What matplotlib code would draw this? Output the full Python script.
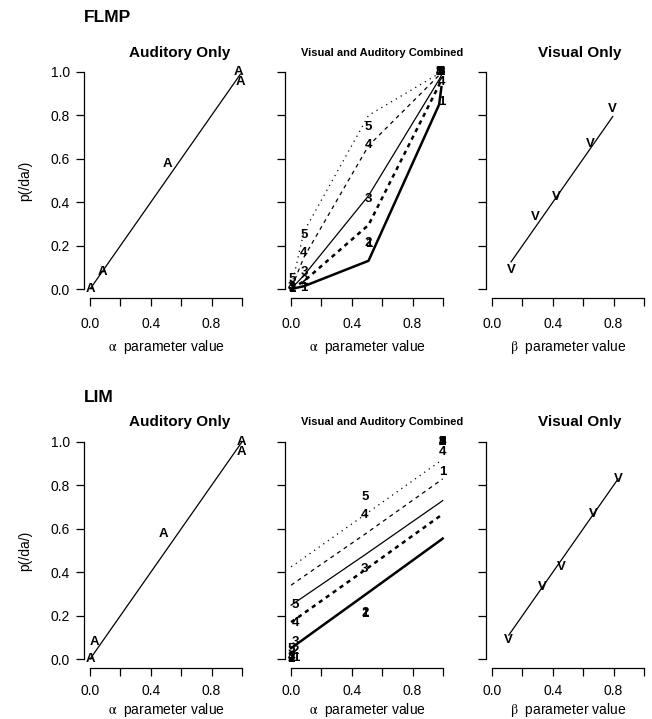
import matplotlib
matplotlib.use("Agg")
import matplotlib.pyplot as plt

W, H = 652, 719

# fitted parameter values
flmp_alpha = [0.005, 0.085, 0.51, 0.975, 0.99]
flmp_beta = [0.125, 0.285, 0.42, 0.65, 0.795]
lim_alpha = [0.0, 0.028, 0.486, 0.995, 0.998]
lim_beta = [0.11, 0.33, 0.455, 0.67, 0.83]

# observed p(/da/)
obs_auditory = [0.0, 0.078, 0.576, 1.0, 0.955]
obs_visual = [0.086, 0.332, 0.422, 0.668, 0.83]
obs_combined = [
    [0.0, 0.004, 0.208, 1.0, 0.86],
    [0.005, 0.038, 0.21, 1.0, 1.0],
    [0.01, 0.08, 0.415, 1.0, 1.0],
    [0.01, 0.165, 0.665, 1.0, 0.955],
    [0.045, 0.25, 0.745, 1.0, 1.0],
]

# model predictions in the combined condition
flmp_pred = [
    [0.001, 0.013, 0.13, 0.85, 0.93],
    [0.002, 0.036, 0.295, 0.94, 0.975],
    [0.004, 0.063, 0.43, 0.965, 0.985],
    [0.009, 0.147, 0.66, 0.985, 0.995],
    [0.019, 0.265, 0.80, 0.993, 0.997],
]
lim_pred = [
    [0.05, 0.064, 0.295, 0.553, 0.555],
    [0.17, 0.183, 0.41, 0.666, 0.668],
    [0.248, 0.261, 0.48, 0.728, 0.73],
    [0.34, 0.354, 0.575, 0.828, 0.83],
    [0.425, 0.438, 0.665, 0.918, 0.92],
]
level_labels = ["1", "2", "3", "4", "5"]

LINE_STYLES = [
    dict(lw=1.8, ls="-"),
    dict(lw=1.8, ls=(0, (1.7, 1.7))),
    dict(lw=0.9, ls="-"),
    dict(lw=0.9, ls=(0, (3.2, 3.2))),
    dict(lw=0.9, ls=(0, (1, 3.5))),
]

plt.rcParams.update({
    "font.family": ["Liberation Sans", "DejaVu Sans"],
    "mathtext.fontset": "stix",
    "axes.linewidth": 0.9,
    "xtick.major.width": 0.9, "ytick.major.width": 0.9,
    "xtick.major.size": 5.5, "ytick.major.size": 5.5,
    "ytick.major.pad": 4.5,
    "xtick.labelsize": 10, "ytick.labelsize": 10,
})

fig = plt.figure(figsize=(W / 100, H / 100), dpi=100)
AX_W, AX_H = 164, 234.4


def add_panel(left_px, bottom_px, ylabels, xpad):
    ax = fig.add_axes([left_px / W, 1 - bottom_px / H, AX_W / W, AX_H / H])
    ax.set_xlim(-0.04, 1.04)
    ax.set_ylim(-0.04, 1.04)
    for s in ["top", "right"]:
        ax.spines[s].set_visible(False)
    ax.spines["left"].set_bounds(0, 1)
    ax.spines["bottom"].set_bounds(0, 1)
    ax.set_xticks([0, 0.2, 0.4, 0.6, 0.8, 1.0],
                  ["0.0", "", "0.4", "", "0.8", ""])
    ax.tick_params(axis="x", pad=xpad)
    ax.set_yticks([0, 0.2, 0.4, 0.6, 0.8, 1.0])
    if ylabels:
        ax.set_yticklabels(["0.0", "0.2", "0.4", "0.6", "0.8", "1.0"])
        ax.set_ylabel("p(/da/)", fontsize=10)
        ax.yaxis.set_label_coords(-0.36, 0.5)
        ax.yaxis.label.set_va("center")
    else:
        ax.set_yticklabels([])
    return ax


def set_param_label(ax, greek, label_y):
    ax.set_xlabel(rf"$\mathrm{{{greek}}}$  parameter value", fontsize=10)
    ax.xaxis.set_label_coords(0.5, -label_y / AX_H)
    ax.xaxis.label.set_va("center")


def single_panel(ax, params, obs, letter):
    ax.plot(params, params, color="black", lw=0.9)
    for p, o in zip(params, obs):
        ax.text(p, o, letter, ha="center", va="center", fontsize=9.5,
                fontweight="bold")


def combined_panel(ax, alpha, pred):
    for i in range(5):
        ax.plot(alpha, pred[i], color="black", **LINE_STYLES[i])
        for a, o in zip(alpha, obs_combined[i]):
            ax.text(a, o, level_labels[i], ha="center", va="center",
                    fontsize=9.5, fontweight="bold")


rows = [
    ("FLMP", 297.7, flmp_alpha, flmp_beta, flmp_pred, 18, 52.5, 8.5, 49),
    ("LIM", 667.7, lim_alpha, lim_beta, lim_pred, 398, 422, 6.5, 42),
]
for name, bottom, alpha, beta, pred, name_y, title_y, xpad, lab_y in rows:
    ax_a = add_panel(84, bottom, True, xpad)
    single_panel(ax_a, alpha, obs_auditory, "A")
    set_param_label(ax_a, r"\alpha", lab_y)

    ax_c = add_panel(285, bottom, False, xpad)
    combined_panel(ax_c, alpha, pred)
    set_param_label(ax_c, r"\alpha", lab_y)

    ax_v = add_panel(486, bottom, False, xpad)
    single_panel(ax_v, beta, obs_visual, "V")
    set_param_label(ax_v, r"\beta", lab_y)

    fig.text(84 / W, 1 - name_y / H, name, fontsize=12.5, fontweight="bold",
             ha="left", va="center")
    fig.text(180 / W, 1 - title_y / H, "Auditory Only", fontsize=11,
             fontweight="bold", ha="center", va="center")
    fig.text(382 / W, 1 - title_y / H, "Visual and Auditory Combined",
             fontsize=8, fontweight="bold", ha="center", va="center")
    fig.text(580 / W, 1 - title_y / H, "Visual Only", fontsize=11,
             fontweight="bold", ha="center", va="center")

fig.savefig("out.png", dpi=100, facecolor="white")
